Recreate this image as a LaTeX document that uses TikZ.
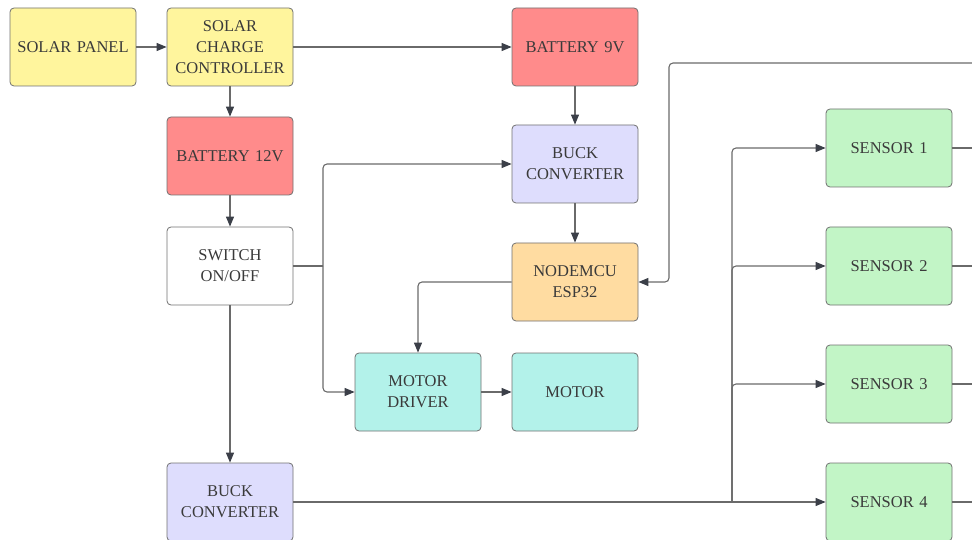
\documentclass[tikz,border=0pt]{standalone}
\usepackage{fontspec}
\setmainfont{Liberation Serif}
\usetikzlibrary{arrows.meta,positioning,calc}

\definecolor{solarY}{HTML}{FFF59D}
\definecolor{batR}{HTML}{FF8B8B}
\definecolor{buckL}{HTML}{DEDDFD}
\definecolor{mcuO}{HTML}{FFDCA1}
\definecolor{motC}{HTML}{B3F2EA}
\definecolor{senG}{HTML}{C2F5C6}
\definecolor{edgeG}{HTML}{707070}
\definecolor{lineG}{HTML}{6A6A6A}
\definecolor{tipC}{HTML}{3B3F48}
\definecolor{txtG}{HTML}{3A3A3A}

\begin{document}
\begin{tikzpicture}[x=1pt, y=-1pt, font=\rmfamily\fontsize{16.5}{21}\selectfont, every node/.style={inner sep=2pt}]
        \tikzset{
            blk/.style={draw=edgeG, rounded corners=4pt, align=center, text width=120pt, minimum width=126pt, minimum height=78pt, line width=0.8pt, text=txtG},
            arr/.style={-{Triangle[length=10pt,width=8pt,color=tipC]}, draw=lineG, line width=1.1pt, rounded corners=4pt},
            ln/.style={draw=lineG, line width=1.1pt, rounded corners=4pt}
        }
        \useasboundingbox (0,0) rectangle (972,540);

        % Power side
        \node[blk, fill=solarY] (panel) at (73,47) {SOLAR PANEL};
        \node[blk, fill=solarY] (ctrl) at (230,47) {SOLAR\\CHARGE\\CONTROLLER};
        \node[blk, fill=batR] (bat12) at (230,156) {BATTERY 12V};
        \node[blk, fill=white] (sw) at (230,266) {SWITCH\\ON/OFF};
        \node[blk, fill=buckL] (buckB) at (230,502) {BUCK\\CONVERTER};

        % Controller side
        \node[blk, fill=batR] (bat9) at (575,47) {BATTERY 9V};
        \node[blk, fill=buckL] (buckA) at (575,164) {BUCK\\CONVERTER};
        \node[blk, fill=mcuO] (mcu) at (575,282) {NODEMCU\\ESP32};
        \node[blk, fill=motC] (drv) at (418,392) {MOTOR\\DRIVER};
        \node[blk, fill=motC] (motor) at (575,392) {MOTOR};

        % Sensors
        \node[blk, fill=senG] (s1) at (889,148) {SENSOR 1};
        \node[blk, fill=senG] (s2) at (889,266) {SENSOR 2};
        \node[blk, fill=senG] (s3) at (889,384) {SENSOR 3};
        \node[blk, fill=senG] (s4) at (889,502) {SENSOR 4};

        \draw[arr] (panel) -- (ctrl);
        \draw[arr] (ctrl) -- (bat9);
        \draw[arr] (ctrl) -- (bat12);
        \draw[arr] (bat12) -- (sw);
        \draw[arr] (bat9) -- (buckA);
        \draw[arr] (buckA) -- (mcu);

        % Switch splits to both loads
        \coordinate (swj) at (323,266);
        \draw[ln] (sw.east) -- (swj);
        \draw[arr] (swj) |- (buckA.west);
        \draw[arr] (swj) |- (drv.west);
        \draw[arr] (sw) -- (buckB);

        \draw[arr] (mcu.west) -| (drv.north);
        \draw[arr] (drv) -- (motor);

        % Sensor supply bus
        \coordinate (bus) at (732,502);
        \draw[arr] (buckB.east) -- (s4.west);
        \draw[arr] (bus) |- (s1.west);
        \draw[arr] (bus) |- (s2.west);
        \draw[arr] (bus) |- (s3.west);

        % Sensor outputs and return line
        \coordinate (fbIn) at (972,63);
        \coordinate (fbDn) at (669,63);
        \draw[ln] (s1.east) -- (s1.east -| fbIn);
        \draw[ln] (s2.east) -- (s2.east -| fbIn);
        \draw[ln] (s3.east) -- (s3.east -| fbIn);
        \draw[ln] (s4.east) -- (s4.east -| fbIn);
        \draw[arr] (fbIn) -- (fbDn) |- (mcu.east);
    \end{tikzpicture}
\end{document}
